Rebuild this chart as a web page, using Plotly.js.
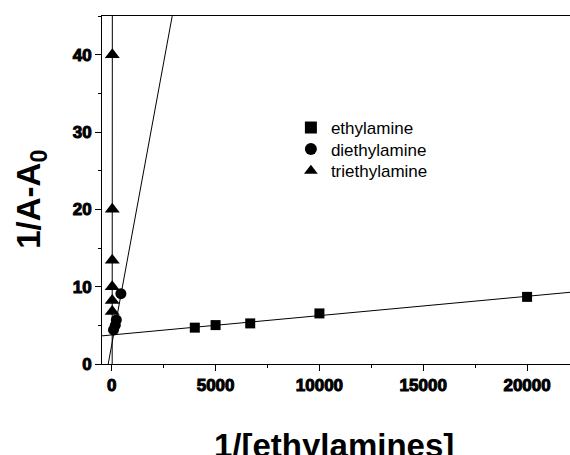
<!DOCTYPE html>
<html>
<head>
<meta charset="utf-8">
<script src="https://cdn.plot.ly/plotly-3.0.1.min.js"></script>
<style>
html, body { margin: 0; padding: 0; overflow: hidden; background: #fff; }
#chart { width: 600px; height: 455px; }
g.xtick text, g.ytick text, g.xtick tspan, g.ytick tspan {
  font-weight: 700 !important;
  stroke: #000 !important; stroke-width: 1px !important;
}
</style>
</head>
<body>
<div id="chart"></div>
<script>
// Data
const seriesNames = ["ethylamine", "diethylamine", "triethylamine"];
const ethylX = [4000, 5000, 6667, 10000, 20000];
const ethylY = [4.7, 5.03, 5.25, 6.54, 8.68];
const diethylX = [85, 170, 220, 440];
const diethylY = [4.4, 5.0, 5.7, 9.1];
const triethylX = [27, 23.6, 22.4, 21.8, 21.4, 21.2];
const triethylY = [40, 20, 13.4, 10, 8.2, 6.8];
// Linear fit parameters (slope, intercept) of the drawn fit lines
const fitSlope = [2.5e-4, 0.0146, 5.6];
const fitIntercept = [3.755, 2.5, -112];
const xTickVals = [0, 5000, 10000, 15000, 20000];
const yTickVals = [0, 10, 20, 30, 40];
const xTitle = "1/[ethylamines]";
const yTitle = "1/A-A<sub>0</sub>";

const symbols = ["square", "circle", "triangle-up"];
const sizes = [10, 11, 13];
const xs = [ethylX, diethylX, triethylX];
const ys = [ethylY, diethylY, triethylY];
const legendIds = ["legend", "legend2", "legend3"];
const legendY = [0.730, 0.668, 0.606];

const font = "Liberation Sans, Arial, sans-serif";
const traces = [];
for (let i = 0; i < 3; i++) {
  const m = fitSlope[i], b = fitIntercept[i];
  let x0, x1;
  if (i === 0) { x0 = -1000; x1 = 25000; }
  else { x0 = (-5 - b) / m; x1 = (50 - b) / m; }
  traces.push({
    x: [x0, x1], y: [m * x0 + b, m * x1 + b],
    mode: "lines", line: {color: "#000", width: 1},
    showlegend: false, hoverinfo: "skip"
  });
}
for (let i = 0; i < 3; i++) {
  traces.push({
    x: xs[i], y: ys[i], name: seriesNames[i],
    mode: "markers", type: "scatter",
    marker: {symbol: symbols[i], size: sizes[i], color: "#000"},
    legend: legendIds[i],
    cliponaxis: true
  });
}

const layout = {
  width: 600, height: 455,
  margin: {l: 102, r: 20.5, t: 16, b: 90.5},
  paper_bgcolor: "#fff", plot_bgcolor: "#fff",
  font: {family: font, color: "#000"},
  showlegend: true,
  xaxis: {
    range: [-470, 22500],
    tickvals: xTickVals, ticktext: xTickVals.map(v => "<b>" + v + "</b>"),
    ticks: "outside", ticklen: 6, tickwidth: 1, tickcolor: "#000",
    minor: {dtick: 2500, tick0: 0, ticks: "outside", ticklen: 3, tickcolor: "#000"},
    showline: true, linecolor: "#000", linewidth: 1, mirror: true,
    showgrid: false, zeroline: false,
    tickfont: {family: font, size: 17, color: "#000", weight: 700}
  },
  yaxis: {
    range: [0, 45],
    tickvals: yTickVals, ticktext: yTickVals.map(v => "<b>" + v + "</b>"),
    ticks: "outside", ticklen: 6, tickwidth: 1, tickcolor: "#000",
    minor: {dtick: 5, tick0: 0, ticks: "outside", ticklen: 3, tickcolor: "#000"},
    showline: true, linecolor: "#000", linewidth: 1, mirror: true,
    showgrid: false, zeroline: false,
    tickfont: {family: font, size: 17, color: "#000", weight: 700}
  },
  annotations: [
    {text: "<b>" + xTitle + "</b>", xref: "paper", yref: "paper",
     x: (334 - 102) / 477.5, y: (364.5 - 446) / 348.5, xanchor: "center", yanchor: "middle",
     showarrow: false, font: {family: font, size: 33, color: "#000"}},
    {text: "<b>" + yTitle + "</b>", xref: "paper", yref: "paper", textangle: -90,
     x: (31 - 102) / 477.5, y: (364.5 - 200) / 348.5, xanchor: "center", yanchor: "middle",
     showarrow: false, font: {family: font, size: 33, color: "#000"}}
  ]
};
legendIds.forEach((id, i) => {
  layout[id] = {
    x: 0.396, y: legendY[i], xanchor: "left", yanchor: "top",
    font: {family: font, size: 17, color: "#000"},
    bgcolor: "rgba(0,0,0,0)", itemsizing: "constant"
  };
});

Plotly.newPlot("chart", traces, layout, {displayModeBar: false, staticPlot: true});
</script>
</body>
</html>
